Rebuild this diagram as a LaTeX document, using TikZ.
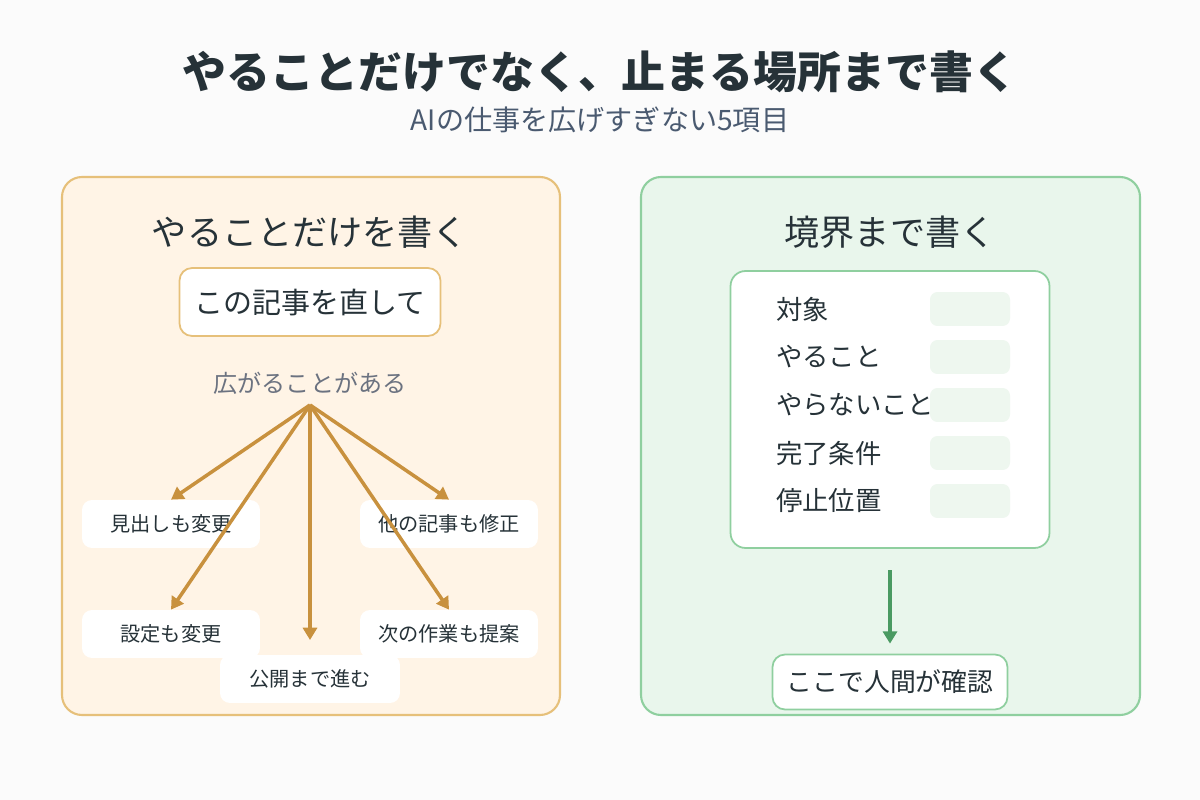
\documentclass[tikz,border=0pt]{standalone}
\usepackage{fontspec}
\setmainfont{Noto Sans CJK JP}
\usetikzlibrary{arrows.meta,positioning}
\definecolor{inkdark}{HTML}{263238}
\definecolor{inksub}{HTML}{4A5A70}
\definecolor{inkgray}{HTML}{6B7280}
\definecolor{warmfill}{HTML}{FFF4E6}
\definecolor{warmline}{HTML}{E6C07A}
\definecolor{warmarrow}{HTML}{C8913E}
\definecolor{greenfill}{HTML}{E9F6EC}
\definecolor{greenline}{HTML}{8FCF9F}
\definecolor{greenslot}{HTML}{EEF7EF}
\definecolor{greenarrow}{HTML}{4A9A62}
\tikzset{
  panel/.style={draw, line width=1.2pt, rounded corners=0.4cm},
  spread/.style={fill=white, rounded corners=0.2cm, minimum width=3.56cm, minimum height=0.96cm, text=inkdark, font=\fontsize{11.5pt}{13pt}\selectfont},
  fan/.style={-{Triangle[length=7pt,width=8pt]}, warmarrow, line width=2pt},
  rowlabel/.style={anchor=west, text=inkdark, font=\fontsize{15pt}{17pt}\selectfont},
  slot/.style={fill=greenslot, rounded corners=0.15cm, minimum width=1.6cm, minimum height=0.68cm}
}
\begin{document}
\begin{tikzpicture}[x=0.02cm,y=-0.02cm]
  \fill[white!97!gray] (0,0) rectangle (1200,800);
  \useasboundingbox (0,0) rectangle (1200,800);
  % title
  \node[text=inkdark, font=\fontsize{25pt}{28pt}\selectfont\bfseries] (title) at (600,72) {やることだけでなく、止まる場所まで書く};
  \node[text=inksub, font=\fontsize{16pt}{18pt}\selectfont] (subtitle) at (600,120) {AIの仕事を広げすぎない5項目};
  % left panel
  \draw[panel, draw=warmline, fill=warmfill] (62,177) rectangle (560,715);
  \node[text=inkdark, font=\fontsize{20pt}{22pt}\selectfont] (lhead) at (310,232) {やることだけを書く};
  \node[draw=warmline, line width=1pt, fill=white, rounded corners=0.25cm, minimum width=5.22cm, minimum height=1.36cm, text=inkdark, font=\fontsize{16.5pt}{18pt}\selectfont] (ask) at (310,302) {この記事を直して};
  \node[text=inkgray, font=\fontsize{13.7pt}{15pt}\selectfont] (spreadlbl) at (310,383) {広がることがある};
  \coordinate (root) at (310,405);
  \node[spread] (midashi) at (171,524) {見出しも変更};
  \node[spread] (tanokiji) at (449,524) {他の記事も修正};
  \node[spread] (settei) at (171,634) {設定も変更};
  \node[spread] (tsugi) at (449,634) {次の作業も提案};
  \node[spread, minimum width=3.6cm] (kokai) at (310,679) {公開まで進む};
  \coordinate (kokaitop) at (310,640);
  \draw[fan] (root) -- (midashi.north);
  \draw[fan] (root) -- (settei.north);
  \draw[fan] (root) -- (kokaitop);
  \draw[fan] (root) -- (tanokiji.north);
  \draw[fan] (root) -- (tsugi.north);
  % right panel
  \draw[panel, draw=greenline, fill=greenfill] (641,177) rectangle (1140,715);
  \node[text=inkdark, font=\fontsize{20pt}{22pt}\selectfont] (rhead) at (890,232) {境界まで書く};
  \node[draw=greenline, line width=1pt, fill=white, rounded corners=0.3cm, minimum width=6.38cm, minimum height=5.54cm] (card) at (890,409.5) {};
  \foreach \lbl [count=\i] in {対象,やること,やらないこと,完了条件,停止位置}{
    \node[slot] (slot\i) at (970,261+48*\i) {};
    \node[rowlabel] (row\i) at (770,261+48*\i) {\lbl};
  }
  \node[draw=greenline, line width=1pt, fill=white, rounded corners=0.25cm, minimum width=4.7cm, minimum height=1.1cm, text=inkdark, font=\fontsize{14.7pt}{16pt}\selectfont] (check) at (890,682) {ここで人間が確認};
  \coordinate (cardfoot) at (890,570);
  \draw[-{Triangle[length=7pt,width=8pt]}, greenarrow, line width=2pt] (cardfoot) -- ([yshift=0.2cm]check.north);
\end{tikzpicture}
\end{document}
